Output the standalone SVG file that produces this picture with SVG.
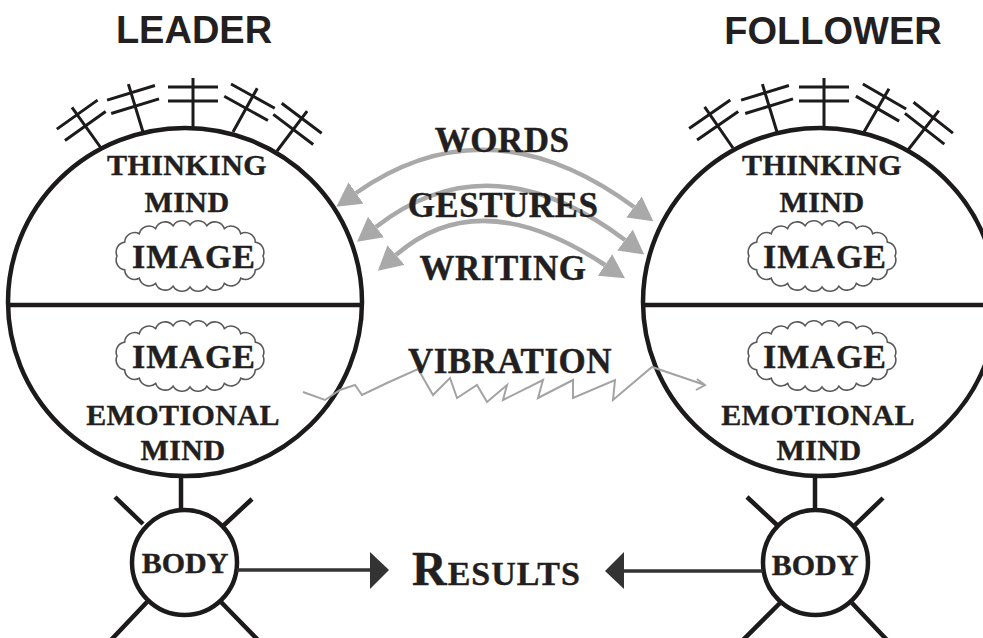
<svg xmlns="http://www.w3.org/2000/svg" xmlns:xlink="http://www.w3.org/1999/xlink" width="983" height="638" viewBox="0 0 983 638">
<style>
.ln{fill:none;stroke:#1c1a1b;stroke-width:4.5}
.ant{fill:none;stroke:#1c1a1b;stroke-width:3}
.cloud{fill:#fff;stroke:#5a5a5a;stroke-width:1.6}
.t{font-family:"Liberation Serif","Times New Roman",serif;font-weight:bold;fill:#231f20;stroke:#231f20;stroke-width:0.4;text-anchor:middle}
.h{font-family:"Liberation Sans",Arial,sans-serif;font-weight:bold;fill:#231f20;text-anchor:middle;font-size:38px}
.m{font-size:30px;letter-spacing:0.4px}
.img{font-size:34px;letter-spacing:1px}
.g{font-size:35px;letter-spacing:0.5px}
.gray{fill:none;stroke:#a9a9a9;stroke-width:4.5}
.vib{fill:none;stroke:#a3a3a3;stroke-width:2;stroke-linejoin:miter}
.blk{fill:none;stroke:#333;stroke-width:3.5}
</style>
<defs>
<g id="ant"><path d="M0,0 V-50 M-25,-41 H25 M-25,-27 H25"/></g>
<path id="cloud" d="M73,0 A10,10 0 0 1 65.3,13.9 A10,10 0 0 1 50.7,22.3 A10,10 0 0 1 34.3,27.4 A10,10 0 0 1 16.9,30.2 A10,10 0 0 1 0,31 A10,10 0 0 1 -16.9,30.2 A10,10 0 0 1 -34.3,27.4 A10,10 0 0 1 -50.7,22.3 A10,10 0 0 1 -65.3,13.9 A10,10 0 0 1 -73,0 A10,10 0 0 1 -65.3,-13.9 A10,10 0 0 1 -50.7,-22.3 A10,10 0 0 1 -34.3,-27.4 A10,10 0 0 1 -16.9,-30.2 A10,10 0 0 1 0,-31 A10,10 0 0 1 16.9,-30.2 A10,10 0 0 1 34.3,-27.4 A10,10 0 0 1 50.7,-22.3 A10,10 0 0 1 65.3,-13.9 A10,10 0 0 1 73,0 Z"/>
<marker id="gh" viewBox="0 0 24 26" refX="0" refY="13" markerWidth="24" markerHeight="26" markerUnits="userSpaceOnUse" orient="auto-start-reverse"><path d="M0,0 L24,13 L0,26 Z" fill="#a9a9a9"/></marker>
</defs>
<rect width="983" height="638" fill="#fff"/>

<text class="h" x="194" y="43">LEADER</text>
<text class="h" x="833" y="44">FOLLOWER</text>

<g id="leader-mind">
<ellipse class="ln" cx="185" cy="302" rx="177" ry="174"/>
<line class="ln" x1="8" y1="305" x2="362" y2="305"/>
<g class="ant">
<use xlink:href="#ant" transform="translate(101,148) rotate(-35.5)"/>
<use xlink:href="#ant" transform="translate(143,132) rotate(-17)"/>
<use xlink:href="#ant" transform="translate(193,128)"/>
<use xlink:href="#ant" transform="translate(233,132) rotate(29)"/>
<use xlink:href="#ant" transform="translate(277,151) rotate(37)"/>
</g>
<text class="t m" x="187" y="175">THINKING</text>
<text class="t m" x="187" y="212">MIND</text>
<use class="cloud" xlink:href="#cloud" transform="translate(190,256)"/>
<text class="t img" x="194" y="268">IMAGE</text>
<use class="cloud" xlink:href="#cloud" transform="translate(190,356)"/>
<text class="t img" x="194" y="368">IMAGE</text>
<text class="t m" x="183" y="425">EMOTIONAL</text>
<text class="t m" x="183" y="460">MIND</text>
</g>

<g id="follower-mind">
<ellipse class="ln" cx="820" cy="302" rx="177" ry="174"/>
<line class="ln" x1="643" y1="305" x2="983" y2="305"/>
<g class="ant">
<use xlink:href="#ant" transform="translate(733,148) rotate(-34.6)"/>
<use xlink:href="#ant" transform="translate(777,132) rotate(-17)"/>
<use xlink:href="#ant" transform="translate(824,128)"/>
<use xlink:href="#ant" transform="translate(864,132) rotate(30)"/>
<use xlink:href="#ant" transform="translate(908,150) rotate(38)"/>
</g>
<text class="t m" x="822" y="175">THINKING</text>
<text class="t m" x="822" y="212">MIND</text>
<use class="cloud" xlink:href="#cloud" transform="translate(822,256)"/>
<text class="t img" x="825" y="268">IMAGE</text>
<use class="cloud" xlink:href="#cloud" transform="translate(822,356)"/>
<text class="t img" x="825" y="368">IMAGE</text>
<text class="t m" x="818" y="425">EMOTIONAL</text>
<text class="t m" x="819" y="460">MIND</text>
</g>

<g id="leader-body">
<line class="ln" x1="181" y1="476" x2="181" y2="511"/>
<path class="ln" d="M143,524 L115,497 M223,526 L252,499 M147,602 L111,640 M221,602 L258,640"/>
<circle class="ln" cx="184.5" cy="562.5" r="52.5"/>
<text class="t" x="185" y="573" font-size="30">BODY</text>
</g>

<g id="follower-body">
<line class="ln" x1="815" y1="476" x2="815" y2="511"/>
<path class="ln" d="M777,525 L747,497 M855,525 L883,498 M780,603 L743,640 M852,603 L887,640"/>
<circle class="ln" cx="815.5" cy="562.5" r="52.5"/>
<text class="t" x="815" y="575" font-size="30">BODY</text>
</g>

<g id="results">
<text class="t" x="412" y="585" style="text-anchor:start;letter-spacing:1px"><tspan font-size="48">R</tspan><tspan font-size="34">ESULTS</tspan></text>
</g>

<g id="connectors">
<path class="gray" d="M356,193 Q489,100 634,207" marker-start="url(#gh)" marker-end="url(#gh)"/>
<path class="gray" d="M376,227 Q489.5,138.5 625,240" marker-start="url(#gh)" marker-end="url(#gh)"/>
<path class="gray" d="M396,255 Q479.5,182 605,265" marker-start="url(#gh)" marker-end="url(#gh)"/>
<path class="vib" d="M303,392 L325,400 L340,390 L355,385 L362,395 L387,383 L418,369 L433,395 L450,378 L457,398 L477,385 L487,402 L507,385 L503,400 L543,380 L538,398 L573,380 L573,398 L615,380 L613,400 L652,367 L705,385 M697,379 L705,385 L696,390"/>
<line class="blk" x1="237" y1="570" x2="372" y2="570"/>
<polygon points="370,552 389,570 370,589" fill="#333"/>
<line class="blk" x1="622" y1="571" x2="763" y2="571"/>
<polygon points="624,552 605,571 624,589" fill="#333"/>
</g>

<text class="t g" x="502" y="152">WORDS</text>
<text class="t g" x="503" y="217">GESTURES</text>
<text class="t g" x="503" y="280">WRITING</text>
<text class="t g" x="510" y="373">VIBRATION</text>
</svg>
